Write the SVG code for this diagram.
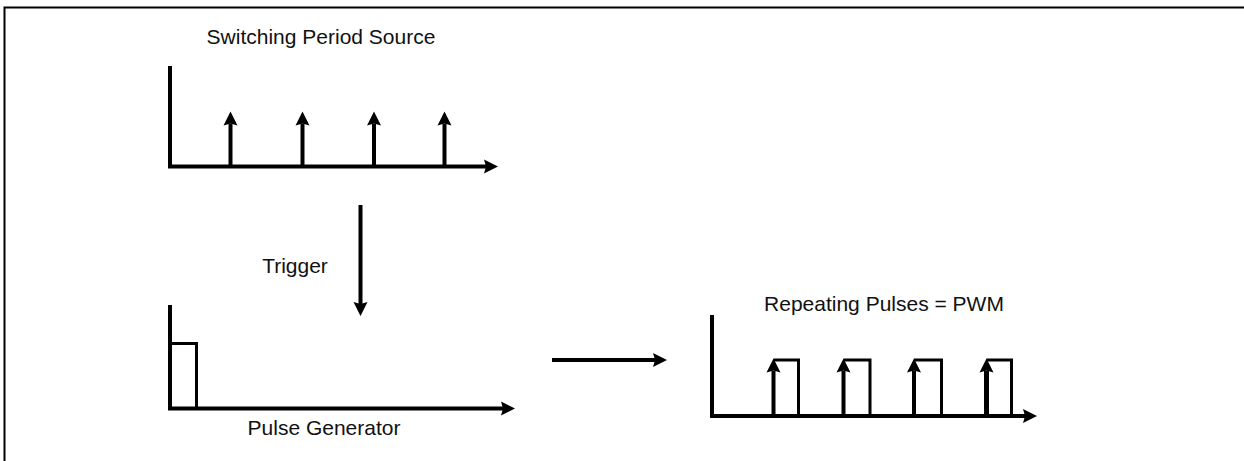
<svg xmlns="http://www.w3.org/2000/svg" width="1244" height="461" viewBox="0 0 1244 461">
  <style>
    .lbl { font-family: "Liberation Sans", Arial, sans-serif; font-size: 21px; fill: #111; text-anchor: middle; }
    .ax { stroke: #000; stroke-width: 4; fill: none; }
    .stem { stroke: #000; stroke-width: 4; fill: none; marker-end: url(#ah); }
    .pulse { stroke: #000; stroke-width: 3; fill: none; stroke-linejoin: miter; }
    .frame { stroke: #000; stroke-width: 2; fill: none; }
  </style>
  <defs>
    <marker id="ah" markerUnits="userSpaceOnUse" markerWidth="16" markerHeight="16" refX="2" refY="7" orient="auto" viewBox="0 0 16 14">
      <path d="M0,0 L14,7 L0,14 L2,7 Z" fill="#000"/>
    </marker>
  </defs>
  <rect width="1244" height="461" fill="#fff"/>
  <g id="frame">
    <path class="frame" d="M4.5,461 V7.5 H1244"/>
  </g>
  <g id="switching-period-source">
    <text class="lbl" x="321" y="44">Switching Period Source</text>
    <line class="ax" x1="170" y1="66" x2="170" y2="168"/>
    <line class="stem" x1="168" y1="166.5" x2="486" y2="166.5"/>
    <line class="stem" x1="230.5" y1="166" x2="230.5" y2="123.5"/>
    <line class="stem" x1="302.5" y1="166" x2="302.5" y2="123.5"/>
    <line class="stem" x1="374" y1="166" x2="374" y2="123.5"/>
    <line class="stem" x1="444.5" y1="166" x2="444.5" y2="123.5"/>
  </g>
  <g id="pulse-generator">
    <text class="lbl" x="324" y="435">Pulse Generator</text>
    <line class="ax" x1="170" y1="305" x2="170" y2="410"/>
    <line class="stem" x1="168" y1="408.5" x2="503" y2="408.5"/>
    <path class="pulse" d="M170,343.5 H198 M196.5,343.5 V408"/>
  </g>
  <g id="pwm">
    <text class="lbl" x="884" y="311">Repeating Pulses = PWM</text>
    <line class="ax" x1="712" y1="315" x2="712" y2="418"/>
    <line class="stem" x1="710" y1="416" x2="1025" y2="416"/>
    <path class="pulse" d="M773.5,360 H798.5 V416 M843.5,360 H870 V416 M914,360 H941.5 V416 M986.5,360 H1011.5 V416"/>
    <line class="stem" x1="773.5" y1="416" x2="773.5" y2="370.5"/>
    <line class="stem" x1="843.5" y1="416" x2="843.5" y2="370.5"/>
    <line class="stem" x1="914" y1="416" x2="914" y2="370.5"/>
    <line class="stem" x1="986.5" y1="416" x2="986.5" y2="370.5" style="stroke-width:5"/>
  </g>
  <g id="connectors">
    <text class="lbl" x="295" y="273">Trigger</text>
    <line class="stem" x1="360.5" y1="205" x2="360.5" y2="304"/>
    <line class="stem" x1="552" y1="360" x2="655" y2="360"/>
  </g>
</svg>
